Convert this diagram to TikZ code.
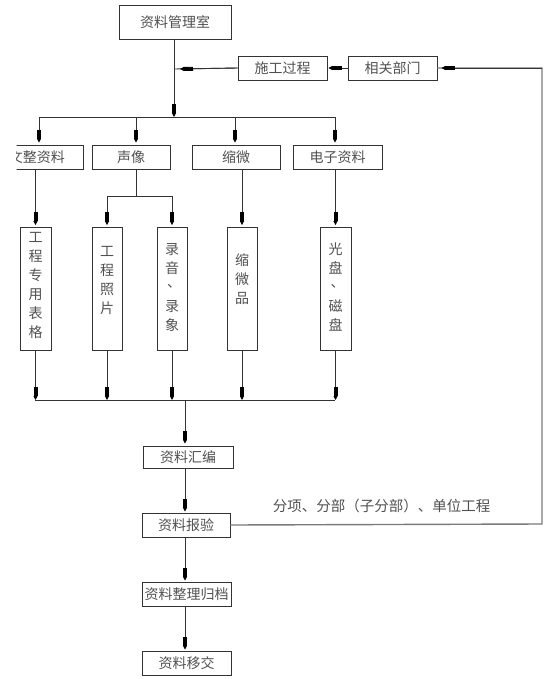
\documentclass[tikz,border=0pt]{standalone}
\usepackage{fontspec}
\setmainfont{Noto Sans CJK SC}
\usetikzlibrary{arrows.meta}
\definecolor{txt}{HTML}{505050}
\definecolor{lnc}{HTML}{333333}
\definecolor{fbc}{HTML}{7a7a7a}
\newcommand{\vdun}{\makebox[1em]{\hspace*{0.3em}\raisebox{0.3em}{、}}}
\begin{document}
\begin{tikzpicture}[x=1pt,y=-1pt,
  box/.style={draw=lnc, line width=0.9pt, inner sep=0pt, font=\fontsize{14}{16}\selectfont, text=txt},
  vbox/.style={draw=lnc, line width=0.9pt, inner sep=0pt, minimum height=123pt},
  vtext/.style={font=\fontsize{14}{19}\selectfont, text=txt, align=center, inner sep=0pt},
  conn/.style={draw=lnc, line width=0.9pt},
  arr/.style={draw=lnc, line width=0.9pt, -{Rectangle[length=9pt,width=4pt,black]Triangle[length=4pt,width=4pt,black]}},
  fb/.style={draw=fbc, line width=1.4pt}]
\useasboundingbox (0,0) rectangle (554,679);

% top boxes
\node[box, minimum width=112pt, minimum height=34pt] (glx) at (175,22) {资料管理室};
\node[box, minimum width=89pt, minimum height=24pt] (sg) at (282.5,68) {施工过程};
\node[box, minimum width=89pt, minimum height=24pt] (xg) at (392.5,68) {相关部门};

% second row
\begin{scope}
\clip (16.5,0) rectangle (554,679);
\node[box, minimum width=92pt, minimum height=24pt] (wz) at (37,157) {文整资料};
\end{scope}
\node[box, minimum width=78pt, minimum height=24pt] (sx) at (131,157) {声像};
\node[box, minimum width=88pt, minimum height=24pt] (sw) at (236,157) {缩微};
\node[box, minimum width=89pt, minimum height=24pt] (dz) at (337.5,157) {电子资料};

% vertical boxes
\node[vbox, minimum width=31pt] (v1) at (35.5,288.5) {};
\node[vbox, minimum width=30pt] (v2) at (107,288.5) {};
\node[vbox, minimum width=30pt] (v3) at (172,288.5) {};
\node[vbox, minimum width=30pt] (v4) at (242,288.5) {};
\node[vbox, minimum width=31pt] (v5) at (335.5,288.5) {};
\node[vtext] (t1) at (35.5,285.5) {工\\程\\专\\用\\表\\格};
\node[vtext] (t2) at (107,280.5) {工\\程\\照\\片};
\node[vtext] (t3) at (172,287) {录\\音\\\vdun\\录\\象};
\node[vtext] (t4) at (242,279.5) {缩\\微\\品};
\node[vtext] (t5) at (335.5,286.5) {光\\盘\\\vdun\\磁\\盘};

% lower column
\node[box, minimum width=90pt, minimum height=22pt] (hb) at (188,457) {资料汇编};
\node[box, minimum width=88pt, minimum height=24pt] (bg) at (186,525) {资料报验};
\node[box, minimum width=89pt, minimum height=24pt] (gd) at (186.5,594) {资料整理归档};
\node[box, minimum width=89pt, minimum height=24pt] (yj) at (186.5,663) {资料移交};

\node[font=\fontsize{14.5}{16}\selectfont, text=txt, inner sep=0pt] (lbl) at (381.5,506) {分项、分部（子分部）、单位工程};

% coordinates
\coordinate (j1) at (174,69);
\coordinate (bc) at (174,117);
\coordinate (b1) at (39,117);
\coordinate (b2) at (136,117);
\coordinate (b3) at (235,117);
\coordinate (b4) at (335,117);
\coordinate (sj) at (136,196);
\coordinate (d1) at (35,400);
\coordinate (d5) at (335,400);
\coordinate (dc) at (185,400);
\coordinate (fr1) at (542,524);
\coordinate (fr2) at (542,68);

% top connections
\draw[arr] (glx.south -| bc) -- (bc);
\draw[conn] (sg.west) -- (j1);
\draw[arr] (sg.west) -- ([xshift=6pt]j1);
\draw[arr, shorten >=1pt] (xg.west) -- (sg.east);
\draw[fb] (bg.east) -- (fr1) -- (fr2) -- (xg.east);
\draw[arr, shorten >=4pt] (fr2) -- (xg.east);

% bus 1
\draw[conn] (b1) -- (b4);
\draw[arr, shorten >=2pt] (b1) -- (b1 |- wz.north);
\draw[arr, shorten >=2pt] (b2) -- (b2 |- sx.north);
\draw[arr, shorten >=2pt] (b3) -- (b3 |- sw.north);
\draw[arr, shorten >=2pt] (b4) -- (b4 |- dz.north);

% row 2 to row 3
\draw[arr, shorten >=1.5pt] (v1.north |- wz.south) -- (v1.north);
\draw[conn] (sj |- sx.south) -- (sj);
\draw[conn] (sj -| v2.north) -- (sj -| v3.north);
\draw[arr, shorten >=1.5pt] (sj -| v2.north) -- (v2.north);
\draw[arr, shorten >=1.5pt] (sj -| v3.north) -- (v3.north);
\draw[arr, shorten >=1.5pt] (v4.north |- sw.south) -- (v4.north);
\draw[arr, shorten >=1.5pt] (v5.north |- dz.south) -- (v5.north);

% row 3 to bus 2
\draw[conn] (d1) -- (d5);
\draw[arr] (v1.south) -- (v1.south |- d1);
\draw[arr] (v2.south) -- (v2.south |- d1);
\draw[arr] (v3.south) -- (v3.south |- d1);
\draw[arr] (v4.south) -- (v4.south |- d1);
\draw[arr] (v5.south) -- (v5.south |- d1);

% lower column
\draw[arr, shorten >=2pt] (dc) -- (dc |- hb.north);
\draw[arr, shorten >=1pt] (dc |- hb.south) -- (dc |- bg.north);
\draw[arr, shorten >=1pt] (dc |- bg.south) -- (dc |- gd.north);
\draw[arr, shorten >=1pt] (dc |- gd.south) -- (dc |- yj.north);
\end{tikzpicture}
\end{document}
